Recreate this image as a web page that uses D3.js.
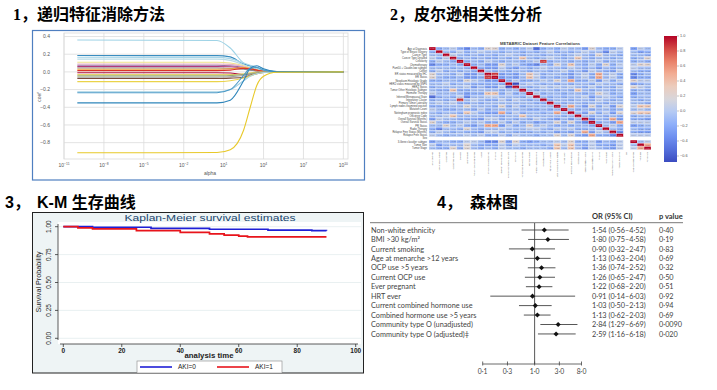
<!DOCTYPE html>
<html>
<head>
<meta charset="utf-8">
<script src="https://cdn.jsdelivr.net/npm/d3@7"></script>
<style>
  body { margin: 0; background: #fff; }
  svg { display: block; }
</style>
</head>
<body>
<script>
// ---------- data ----------

// panel 1: ridge coefficient paths, each sampled at these log10(alpha) points
const ridgeLogAlpha = [-10, 0.5, 1.5, 2.5, 3, 3.5, 4, 5, 10];
const ridgePaths = [
  [0.36, 0.355, 0.27, 0.10, 0.06, 0.035, 0.015, 0.002, 0],
  [0.185, 0.184, 0.17, 0.09, 0.07, 0.05, 0.02, 0.002, 0],
  [0.165, 0.164, 0.15, 0.10, 0.075, 0.05, 0.02, 0.002, 0],
  [0.145, 0.144, 0.13, 0.08, 0.05, 0.03, 0.01, 0.001, 0],
  [0.11, 0.109, 0.10, 0.07, 0.04, 0.02, 0.01, 0.001, 0],
  [0.09, 0.09, 0.085, 0.06, 0.04, 0.02, 0.008, 0.001, 0],
  [0.075, 0.075, 0.07, 0.05, 0.03, 0.015, 0.005, 0, 0],
  [0.06, 0.06, 0.058, 0.04, 0.025, 0.012, 0.004, 0, 0],
  [0.045, 0.045, 0.04, 0.03, 0.02, 0.01, 0.003, 0, 0],
  [0.03, 0.03, 0.035, 0.05, 0.04, 0.02, 0.005, 0, 0],
  [0.015, 0.015, 0.02, 0.04, 0.035, 0.02, 0.006, 0, 0],
  [-0.01, -0.01, -0.012, -0.03, -0.025, -0.012, -0.004, 0, 0],
  [-0.03, -0.03, -0.03, -0.02, -0.01, -0.005, -0.002, 0, 0],
  [-0.045, -0.045, -0.04, -0.03, -0.02, -0.01, -0.003, 0, 0],
  [-0.06, -0.06, -0.055, -0.04, -0.03, -0.015, -0.005, 0, 0],
  [-0.075, -0.075, -0.07, -0.06, -0.04, -0.02, -0.006, 0, 0],
  [-0.11, -0.11, -0.10, -0.07, -0.045, -0.02, -0.006, 0, 0],
  [-0.225, -0.225, -0.20, -0.10, -0.05, -0.02, -0.006, 0, 0],
  [-0.235, -0.235, -0.20, -0.04, 0.04, 0.05, 0.02, 0.002, 0],
  [-0.35, -0.35, -0.32, -0.10, 0.04, 0.07, 0.035, 0.003, 0],
  [-0.915, -0.912, -0.88, -0.66, -0.40, -0.15, -0.05, -0.004, 0]
];
const ridgeColors = [
  "#9fd3e6", "#3a8dc0", "#a8d6e8", "#b8dce8", "#f0e28a", "#e9b3c5", "#9a6fa8",
  "#b23a7a", "#8c8c8c", "#f3a53b", "#d9352b", "#b0103a", "#e6d36b", "#9bad6e",
  "#a0a0a0", "#7b4a3a", "#ead34a", "#a6d2e4", "#4d9ac7", "#2f86bb", "#e8c92a"
];
const ridgeYTicks = [0.4, 0.2, 0, -0.2, -0.4, -0.6, -0.8];
const ridgeXTicks = [-11, -8, -5, -2, 1, 4, 7, 10];

// panel 2: feature correlation matrix (upper triangle, one letter per cell)
const featureNames = [
  "Age at Diagnosis", "Type of Breast Surgery", "Cancer Type", "Cancer Type Detailed",
  "Cellularity", "Chemotherapy", "Pam50 + Claudin-low subtype", "Cohort",
  "ER status measured by IHC", "ER Status", "Neoplasm Histologic Grade",
  "HER2 status measured by SNP6", "HER2 Status", "Tumor Other Histologic Subtype",
  "Hormone Therapy", "Inferred Menopausal State", "Integrative Cluster",
  "Primary Tumor Laterality", "Lymph nodes examined positive", "Mutation Count",
  "Nottingham prognostic index", "Oncotree Code", "Overall Survival (Months)",
  "Overall Survival Status", "PR Status", "Radio Therapy", "Relapse Free Status (Months)",
  "Relapse Free Status", "Sex", "3-Gene classifier subtype", "Tumor Size", "Tumor Stage"
];
const corrCodes = "ABCDEFGHIJKLM";
const corrCodeValues = [-0.68, -0.5, -0.35, -0.24, -0.15, -0.06, 0.04, 0.2, 0.35, 0.5, 0.7, 0.88, 1];
const corrUpper = [
  "MEFGECFEHHEFEFGBEFEGFFDHFEEG.DGF",
  "MFEGEFGFFEFFEFEFGEFEFGFFCGF.FDE",
  "MGFEFEFEFGFEFFEFFEFGFEHFFE.FFE",
  "MEFEFEEFEFIFEFGFEFIFEFFEF.EFH",
  "MEFEGFEFFEFGLEFFEFEFGEFF.EFE",
  "MEFDDHFGEDCFEHFIFEGEHEG.GHH",
  "MEDDGEDFEFGFFEGFEFDFEF.GFF",
  "MFEFEFFEFFEFGEFDGFEDG.FEE",
  "MLDEDFIGEFFEDFGEJFGE.CEF",
  "MDEDFIGEFEFDFGEJFGE.CEE",
  "MEGEEFGFHFJEEGDGEG.HGG",
  "MAFGFEFEFEFFEGFFE.DEF",
  "MFEFGFGFGFEGEFEG.HGF",
  "MFEFFEFEIFEFFEF.EFE",
  "MGEFFEFFEFHGEF.DFF",
  "MFEFEFFGDFGFE.EFF",
  "MEFFEFFEGFEF.FEF",
  "MFEFFEFFEFF.FFE",
  "MFJFDHEGDH.GII",
  "MFEFEFFEF.FGF",
  "MFDHEGDH.HII",
  "MFEFEFE.EFF",
  "MCFEJD.EED",
  "MEFDJ.GGG",
  "MFGE.DEF",
  "MFE.FEE",
  "MC.EDD",
  "M.GGG",
  "....",
  "MFG",
  "MJ",
  "M"
];
const colorbarTicks = [1.0, 0.8, 0.6, 0.4, 0.2, 0.0, -0.2, -0.4, -0.6];

// panel 3: Kaplan-Meier estimates
const kmTimesAKI0 = [0, 10, 30, 50, 70, 85, 90];
const kmSurvAKI0 = [1, 0.995, 0.985, 0.977, 0.97, 0.965, 0.964];
const kmTimesAKI1 = [0, 5, 10, 25, 40, 50, 55, 60, 63, 90];
const kmSurvAKI1 = [1, 0.99, 0.98, 0.965, 0.95, 0.935, 0.925, 0.915, 0.908, 0.908];
const kmGroups = ["AKI=0", "AKI=1"];
const kmYTicks = [0, 0.25, 0.5, 0.75, 1];
const kmXTicks = [0, 20, 40, 60, 80, 100];

// panel 4: forest plot
const forestLabels = [
  "Non-white ethnicity", "BMI >30 kg/m²", "Current smoking", "Age at menarche >12 years",
  "OCP use >5 years", "Current OCP use", "Ever pregnant", "HRT ever",
  "Current combined hormone use", "Combined hormone use >5 years",
  "Community type O (unadjusted)", "Community type O (adjusted)‡"
];
const forestOR = [1.54, 1.80, 0.90, 1.13, 1.36, 1.26, 1.22, 0.91, 1.03, 1.13, 2.84, 2.59];
const forestLow = [0.56, 0.75, 0.32, 0.63, 0.74, 0.65, 0.68, 0.14, 0.50, 0.62, 1.29, 1.16];
const forestHigh = [4.52, 4.58, 2.47, 2.04, 2.52, 2.47, 2.20, 6.03, 2.13, 2.03, 6.69, 6.18];
const forestP = ["0.40", "0.19", "0.83", "0.69", "0.32", "0.50", "0.51", "0.92", "0.94", "0.69", "0.0090", "0.020"];
const forestTicks = [0.1, 0.3, 1, 3, 8];

// ---------- drawing ----------
const W = 717, H = 390;
let svg = null;

appendSvg("body");
drawHeadings();
drawRidgePanel();
drawHeatmapPanel();
drawKMPanel();
drawForestPanel();

function appendSvg(domElement) {
  svg = d3.select(domElement).append("svg")
    .attr("width", W)
    .attr("height", H)
    .style("font-family", "'Liberation Sans', Arial, sans-serif");
}

function drawHeadings() {
  const serifCjk = "'Liberation Serif', 'Noto Sans CJK SC', serif";
  const sansCjk = "'Liberation Sans', 'Noto Sans CJK SC', sans-serif";
  const g = svg.append("g").attr("font-weight", "bold").attr("font-size", 16).attr("fill", "#000");
  g.append("text").attr("x", 13).attr("y", 19.5).attr("font-family", serifCjk).text("1，递归特征消除方法");
  g.append("text").attr("x", 390).attr("y", 19.5).attr("font-family", serifCjk).text("2，皮尔逊相关性分析");
  g.append("text").attr("x", 5).attr("y", 208).attr("font-family", sansCjk).text("3，");
  g.append("text").attr("x", 37).attr("y", 208).attr("font-family", sansCjk).text("K-M 生存曲线");
  g.append("text").attr("x", 437).attr("y", 208).attr("font-family", sansCjk).text("4，");
  g.append("text").attr("x", 470).attr("y", 208).attr("font-family", sansCjk).text("森林图");
}

function drawRidgePanel() {
  const g = svg.append("g");
  g.append("rect")
    .attr("x", 32.5).attr("y", 30.5).attr("width", 332).attr("height", 149.5)
    .attr("fill", "#fff").attr("stroke", "#4f7fc0").attr("stroke-width", 1.2);

  const x = d3.scaleLog().domain([1e-11, Math.pow(10, 10.35)]).range([64, 348]);
  const y = d3.scaleLinear().domain([-0.985, 0.44]).range([159, 33]);

  g.append("rect").attr("x", 64).attr("y", 33).attr("width", 284).attr("height", 126)
    .attr("fill", "#fff").attr("stroke", "#dadada").attr("stroke-width", 0.8);

  g.selectAll("line.gy").data(ridgeYTicks).enter().append("line")
    .attr("x1", 64).attr("x2", 348)
    .attr("y1", d => y(d)).attr("y2", d => y(d))
    .attr("stroke", "#dcdcdc").attr("stroke-width", 0.8);
  g.selectAll("line.gx").data(ridgeXTicks).enter().append("line")
    .attr("x1", d => x(Math.pow(10, d))).attr("x2", d => x(Math.pow(10, d)))
    .attr("y1", 33).attr("y2", 159)
    .attr("stroke", "#dcdcdc").attr("stroke-width", 0.8);

  g.selectAll("text.ty").data(ridgeYTicks).enter().append("text")
    .attr("x", 50).attr("y", d => y(d) + 1.7)
    .attr("text-anchor", "end").attr("font-size", 5).attr("fill", "#555")
    .text(d => d3.format(".1f")(d).replace("-", "−"));

  const xt = g.selectAll("text.tx").data(ridgeXTicks).enter().append("text")
    .attr("x", d => x(Math.pow(10, d))).attr("y", 166.5)
    .attr("text-anchor", "middle").attr("font-size", 5).attr("fill", "#555");
  xt.append("tspan").text("10");
  xt.append("tspan").attr("dy", -2).attr("font-size", 3.4).text(d => String(d).replace("-", "−"));

  g.append("text").attr("x", 210).attr("y", 174.5).attr("text-anchor", "middle")
    .attr("font-size", 5).attr("fill", "#555").text("alpha");
  g.append("text").attr("transform", "translate(40.5,97) rotate(-90)").attr("text-anchor", "middle")
    .attr("font-size", 5).attr("fill", "#555").text("coef");

  const line = d3.line()
    .x((d, i) => x(Math.pow(10, ridgeLogAlpha[i])))
    .y(d => y(d))
    .curve(d3.curveMonotoneX);

  g.selectAll("path.coef").data(ridgePaths).enter().append("path")
    .attr("class", "coef")
    .attr("d", line)
    .attr("fill", "none")
    .attr("stroke", (d, i) => ridgeColors[i])
    .attr("stroke-width", 1.1);
}

function coolwarm(t) {
  return d3.interpolateRgbBasis([
    "#3b4cc0", "#5b7ae5", "#7b9ff9", "#aac7fd", "#dddcdc",
    "#f2cbb7", "#f49a7b", "#dc5d4a", "#b40426"
  ])(t);
}

function drawHeatmapPanel() {
  const g = svg.append("g");
  const n = featureNames.length;

  // expand the upper triangle into a full symmetric matrix
  const cells = [];
  const matrix = d3.range(n).map(() => new Array(n).fill(null));
  corrUpper.forEach((row, i) => {
    row.split("").forEach((c, k) => {
      const j = i + k;
      const v = c === "." ? null : corrCodeValues[corrCodes.indexOf(c)];
      matrix[i][j] = v;
      matrix[j][i] = v;
    });
  });
  matrix.forEach((row, i) => row.forEach((v, j) => {
    if (v !== null) cells.push({ i, j, v });
  }));

  const vmin = d3.min(cells, d => d.v), vmax = d3.max(cells, d => d.v);
  const color = d3.scaleSequential(coolwarm).domain([vmin, vmax]);

  const x = d3.scaleBand().domain(d3.range(n)).range([429, 651]);
  const y = d3.scaleBand().domain(d3.range(n)).range([47, 149.7]);

  g.append("text").attr("x", 540).attr("y", 45.2).attr("text-anchor", "middle")
    .attr("font-size", 4.2).attr("font-weight", "bold").attr("fill", "#444")
    .text("METABRIC Dataset Feature Correlations");

  g.selectAll("rect.cell").data(cells).enter().append("rect")
    .attr("x", d => x(d.j)).attr("y", d => y(d.i))
    .attr("width", x.bandwidth()).attr("height", y.bandwidth())
    .attr("fill", d => color(d.v))
    .attr("stroke", "#f4f4f4").attr("stroke-width", 0.25);

  g.selectAll("text.annot").data(cells).enter().append("text")
    .attr("x", d => x(d.j) + x.bandwidth() / 2)
    .attr("y", d => y(d.i) + y.bandwidth() / 2 + 0.8)
    .attr("text-anchor", "middle").attr("font-size", 2.2)
    .attr("fill", d => Math.abs(d.v) > 0.6 ? "#fff" : "#333")
    .attr("fill-opacity", 0.55)
    .text(d => d3.format(".2f")(d.v));

  g.selectAll("text.rowlab").data(featureNames).enter().append("text")
    .attr("x", 427).attr("y", (d, i) => y(i) + y.bandwidth() / 2 + 0.9)
    .attr("text-anchor", "end").attr("font-size", 2.6).attr("fill", "#444")
    .text(d => d);

  g.selectAll("text.collab").data(featureNames).enter().append("text")
    .attr("transform", (d, i) => `translate(${x(i) + x.bandwidth() / 2 + 0.6},152) rotate(-90)`)
    .attr("text-anchor", "end").attr("font-size", 1.8).attr("fill", "#444")
    .text(d => d);

  // colour bar
  const cb = d3.scaleLinear().domain([vmin, vmax]).range([162, 36]);
  const defs = svg.append("defs");
  const grad = defs.append("linearGradient").attr("id", "cbgrad")
    .attr("x1", 0).attr("y1", 1).attr("x2", 0).attr("y2", 0);
  d3.range(0, 1.001, 0.1).forEach(t => {
    grad.append("stop").attr("offset", t).attr("stop-color", coolwarm(t));
  });
  g.append("rect").attr("x", 664).attr("y", 36).attr("width", 13).attr("height", 126)
    .attr("fill", "url(#cbgrad)");
  g.selectAll("line.cbt").data(colorbarTicks).enter().append("line")
    .attr("x1", 677).attr("x2", 679).attr("y1", d => cb(d)).attr("y2", d => cb(d))
    .attr("stroke", "#666").attr("stroke-width", 0.4);
  g.selectAll("text.cbt").data(colorbarTicks).enter().append("text")
    .attr("x", 680).attr("y", d => cb(d) + 1.3)
    .attr("font-size", 3.8).attr("fill", "#555")
    .text(d => d3.format(".1f")(d).replace("-", "−"));
}

function drawKMPanel() {
  const g = svg.append("g");
  g.append("rect").attr("x", 32.5).attr("y", 212.5).attr("width", 331).attr("height", 160.5)
    .attr("fill", "#eef4f5").attr("stroke", "#222").attr("stroke-width", 1);
  g.append("rect").attr("x", 58).attr("y", 222).attr("width", 303).attr("height", 122)
    .attr("fill", "#fff");

  const x = d3.scaleLinear().domain([0, 100]).range([63.3, 355.7]);
  const y = d3.scaleLinear().domain([0, 1]).range([338.3, 226.7]);

  g.selectAll("line.grid").data(kmYTicks).enter().append("line")
    .attr("x1", 58).attr("x2", 361).attr("y1", d => y(d)).attr("y2", d => y(d))
    .attr("stroke", "#e3eced").attr("stroke-width", 0.8);

  g.append("text").attr("x", 210).attr("y", 220.5).attr("text-anchor", "middle")
    .attr("font-size", 9.5).attr("fill", "#1a476f")
    .attr("textLength", 171).attr("lengthAdjust", "spacingAndGlyphs")
    .text("Kaplan-Meier survival estimates");

  // axes
  g.append("line").attr("x1", 58).attr("x2", 58).attr("y1", 224).attr("y2", 340)
    .attr("stroke", "#333").attr("stroke-width", 0.8);
  g.append("line").attr("x1", 60).attr("x2", 358).attr("y1", 344).attr("y2", 344)
    .attr("stroke", "#333").attr("stroke-width", 0.8);
  g.selectAll("line.yt").data(kmYTicks).enter().append("line")
    .attr("x1", 55).attr("x2", 58).attr("y1", d => y(d)).attr("y2", d => y(d))
    .attr("stroke", "#333").attr("stroke-width", 0.8);
  g.selectAll("text.yt").data(kmYTicks).enter().append("text")
    .attr("transform", d => `translate(51,${y(d)}) rotate(-90)`)
    .attr("text-anchor", "middle").attr("font-size", 6.5).attr("fill", "#222")
    .text(d => d3.format(".2f")(d));
  g.selectAll("line.xt").data(kmXTicks).enter().append("line")
    .attr("x1", d => x(d)).attr("x2", d => x(d)).attr("y1", 344).attr("y2", 347)
    .attr("stroke", "#333").attr("stroke-width", 0.8);
  g.selectAll("text.xt").data(kmXTicks).enter().append("text")
    .attr("x", d => x(d)).attr("y", 352.5)
    .attr("text-anchor", "middle").attr("font-size", 6.5).attr("font-weight", "bold").attr("fill", "#222")
    .text(d => d);

  g.append("text").attr("x", 209).attr("y", 357.5).attr("text-anchor", "middle")
    .attr("font-size", 6.5).attr("font-weight", "bold").attr("fill", "#222")
    .attr("textLength", 49).attr("lengthAdjust", "spacingAndGlyphs")
    .text("analysis time");
  g.append("text").attr("transform", "translate(41,282) rotate(-90)")
    .attr("text-anchor", "middle").attr("font-size", 8).attr("fill", "#222")
    .attr("textLength", 61).attr("lengthAdjust", "spacingAndGlyphs")
    .text("Survival Probability");

  const line = d3.line().x(d => x(d[0])).y(d => y(d[1])).curve(d3.curveStepAfter);
  const series = [
    { pts: d3.zip(kmTimesAKI0, kmSurvAKI0), color: "#1f1fd6" },
    { pts: d3.zip(kmTimesAKI1, kmSurvAKI1), color: "#e8141b" }
  ];
  g.selectAll("path.km").data(series).enter().append("path")
    .attr("d", d => line(d.pts)).attr("fill", "none")
    .attr("stroke", d => d.color).attr("stroke-width", 1.7);

  // legend
  const lg = g.append("g");
  lg.append("rect").attr("x", 137).attr("y", 361).attr("width", 145).attr("height", 12)
    .attr("fill", "#fff").attr("stroke", "#888").attr("stroke-width", 0.6);
  kmGroups.forEach((name, i) => {
    const x0 = 140 + i * 77;
    lg.append("line").attr("x1", x0).attr("x2", x0 + 32).attr("y1", 367).attr("y2", 367)
      .attr("stroke", series[i].color).attr("stroke-width", 1.6);
    lg.append("text").attr("x", x0 + 38).attr("y", 369.3).attr("font-size", 6.5).attr("fill", "#222")
      .text(name);
  });
}

function drawForestPanel() {
  const g = svg.append("g").style("font-family", "Lato, 'Open Sans', sans-serif");
  const x = d3.scaleLog().domain([0.1, 8]).range([482.7, 581.5]);
  const rowY = i => 230 + i * 9.45;
  const dot = s => s.replace(/\./g, "·");
  const f2 = d3.format(".2f");

  g.append("text").attr("x", 592).attr("y", 219).attr("font-size", 7.5).attr("font-weight", "bold")
    .attr("fill", "#333").text("OR (95% CI)");
  g.append("text").attr("x", 659).attr("y", 219).attr("font-size", 7.5).attr("font-weight", "bold")
    .attr("fill", "#333").text("p value");
  g.append("line").attr("x1", 370).attr("x2", 683).attr("y1", 222.7).attr("y2", 222.7)
    .attr("stroke", "#555").attr("stroke-width", 0.8);

  // reference line at OR = 1 and axis
  g.append("line").attr("x1", x(1)).attr("x2", x(1)).attr("y1", 223).attr("y2", 364)
    .attr("stroke", "#444").attr("stroke-width", 0.9);
  g.append("line").attr("x1", x(0.1)).attr("x2", x(8)).attr("y1", 364).attr("y2", 364)
    .attr("stroke", "#444").attr("stroke-width", 0.8);
  g.selectAll("line.ft").data(forestTicks).enter().append("line")
    .attr("x1", d => x(d)).attr("x2", d => x(d)).attr("y1", 361.5).attr("y2", 365.5)
    .attr("stroke", "#444").attr("stroke-width", 0.8);
  g.selectAll("text.ft").data(forestTicks).enter().append("text")
    .attr("x", d => x(d)).attr("y", 373.5).attr("text-anchor", "middle")
    .attr("font-size", 6.8).attr("fill", "#444")
    .text(d => dot(d3.format(".1f")(d)));

  const rows = forestLabels.map((label, i) => ({
    label, or: forestOR[i], lo: forestLow[i], hi: forestHigh[i], p: forestP[i], i
  }));

  g.selectAll("text.lab").data(rows).enter().append("text")
    .attr("x", 371).attr("y", d => rowY(d.i) + 2.6)
    .attr("font-size", 7.3).attr("fill", "#444").text(d => d.label);

  g.selectAll("line.ci").data(rows).enter().append("line")
    .attr("x1", d => x(d.lo)).attr("x2", d => x(d.hi))
    .attr("y1", d => rowY(d.i)).attr("y2", d => rowY(d.i))
    .attr("stroke", "#444").attr("stroke-width", 0.9);

  g.selectAll("path.pt").data(rows).enter().append("path")
    .attr("d", d3.symbol(d3.symbolSquare, 13))
    .attr("transform", d => `translate(${x(d.or)},${rowY(d.i)}) rotate(45)`)
    .attr("fill", "#111");

  g.selectAll("text.orv").data(rows).enter().append("text")
    .attr("x", 592).attr("y", d => rowY(d.i) + 2.6)
    .attr("font-size", 7.3).attr("fill", "#444")
    .text(d => dot(`${f2(d.or)} (${f2(d.lo)}–${f2(d.hi)})`));

  g.selectAll("text.pv").data(rows).enter().append("text")
    .attr("x", 659).attr("y", d => rowY(d.i) + 2.6)
    .attr("font-size", 7.3).attr("fill", "#444")
    .text(d => dot(d.p));
}
</script>
</body>
</html>
